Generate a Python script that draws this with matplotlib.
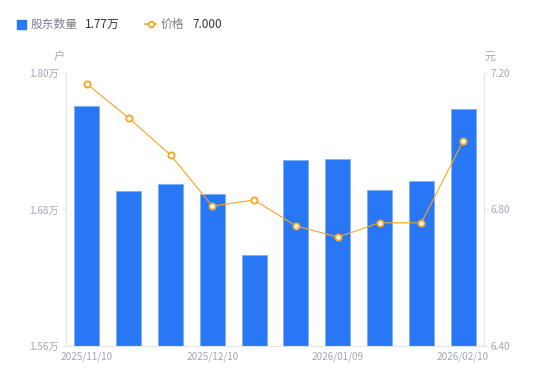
import numpy as np
import matplotlib.pyplot as plt
from matplotlib.lines import Line2D

plt.rcParams['font.family'] = ['Noto Sans CJK SC', 'DejaVu Sans']

dates = ['2025/11/10', '', '', '2025/12/10', '', '', '2026/01/09', '', '', '2026/02/10']
holders = [1.771, 1.696, 1.702, 1.694, 1.640, 1.7235, 1.7244, 1.697, 1.705, 1.768]
prices = [7.168, 7.068, 6.960, 6.810, 6.828, 6.752, 6.719, 6.761, 6.761, 7.000]

left_ticks = [1.56, 1.68, 1.80]
right_ticks = [6.40, 6.80, 7.20]

blue = '#2878F5'
orange = '#F5A623'
grey = '#A3A7B3'
axis_c = '#E3E5EA'

fig = plt.figure(figsize=(5.5, 3.81), dpi=100)
ax = fig.add_axes([0.12, 0.0919, 0.76, 0.7165])
x = np.arange(len(holders))
ax.bar(x, [h - 1.56 for h in holders], bottom=1.56, width=0.6, color=blue,
       edgecolor='#7FAEF8', linewidth=0.6)
ax.set_xlim(-0.5, len(holders) - 0.5)
ax.set_ylim(1.56, 1.80)
ax.set_yticks(left_ticks)
ax.set_yticklabels([f'{t:.2f}万' for t in left_ticks])
ax.set_xticks(x)
ax.set_xticklabels(dates)

ax2 = ax.twinx()
ax2.plot(x, prices, color=orange, linewidth=0.8, marker='o', markersize=4.5,
         markerfacecolor='white', markeredgecolor=orange, markeredgewidth=1.3)
ax2.set_ylim(6.40, 7.20)
ax2.set_yticks(right_ticks)
ax2.set_yticklabels([f'{t:.2f}' for t in right_ticks])

for a in (ax, ax2):
    for s in a.spines.values():
        s.set_visible(False)
    a.tick_params(colors=axis_c, labelcolor=grey, labelsize=7.2, length=3, width=0.8)
ax.spines['left'].set_visible(True)
ax.spines['left'].set_color(axis_c)
ax.spines['bottom'].set_visible(True)
ax.spines['bottom'].set_color(axis_c)
ax2.spines['right'].set_visible(True)
ax2.spines['right'].set_color(axis_c)
ax.tick_params(axis='x', length=0, pad=4)
ax.tick_params(axis='y', pad=2)
ax2.tick_params(axis='y', pad=2)

fig.text(59 / 550, 1 - 57 / 381, '户', color=grey, fontsize=8, ha='center', va='center')
fig.text(490 / 550, 1 - 57 / 381, '元', color=grey, fontsize=8, ha='center', va='center')

# legend
ly = 1 - 24 / 381
fig.patches.append(plt.Rectangle((17 / 550, ly - 4.5 / 381), 9 / 550, 9 / 381,
                                 transform=fig.transFigure, color=blue, figure=fig))
fig.text(31 / 550, ly, '股东数量', color='#7A7E8A', fontsize=8.5, va='center')
fig.text(85 / 550, ly, '1.77万', color='#333333', fontsize=8.5, va='center')
fig.lines.append(Line2D([145 / 550, 156 / 550], [ly, ly], transform=fig.transFigure,
                       color=orange, linewidth=1.2))
fig.lines.append(Line2D([150.5 / 550], [ly], transform=fig.transFigure, marker='o',
                        markersize=4, markerfacecolor='white', markeredgecolor=orange,
                        markeredgewidth=1.3))
fig.text(161 / 550, ly, '价格', color='#7A7E8A', fontsize=8.5, va='center')
fig.text(192 / 550, ly, '7.000', color='#333333', fontsize=8.5, va='center')

fig.savefig('out.png', dpi=100)
